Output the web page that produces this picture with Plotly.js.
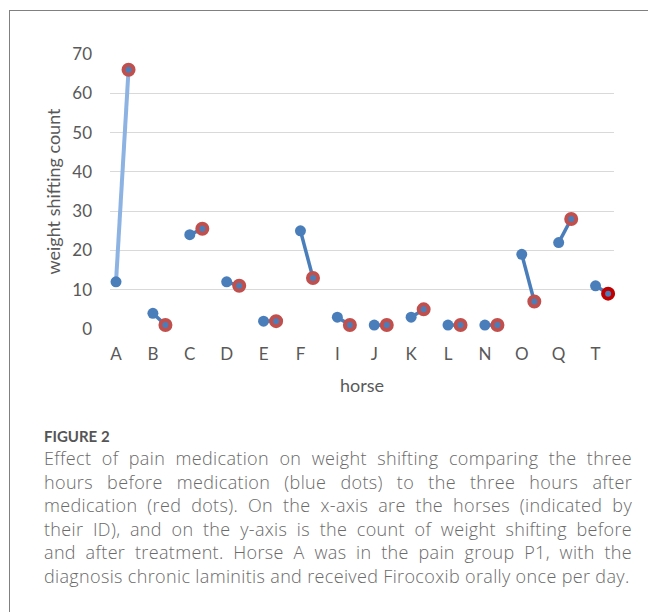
<!DOCTYPE html>
<html>
<head>
<meta charset="utf-8">
<script src="https://cdn.plot.ly/plotly-3.0.1.min.js"></script>
<style>
  html, body { margin: 0; padding: 0; background: #ffffff; }
  #wrap { position: relative; width: 648px; height: 612px; overflow: hidden; }
  #chart { position: absolute; left: 0; top: 0; width: 648px; height: 612px; }
  #frame { position: absolute; left: 9px; top: 10px; width: 700px; height: 700px;
           border-left: 1.5px solid #808080; border-top: 1.5px solid #808080; pointer-events: none; }
  #figlabel { position: absolute; left: 44px; top: 427px; font-family: Lato, sans-serif;
              font-weight: 700; font-size: 15px; color: #555555; }
  #caption { position: absolute; left: 44px; top: 447px; width: 588px; font-family: "Open Sans", sans-serif;
             font-weight: 300; font-size: 18px; letter-spacing: 0.35px; line-height: 23.5px; color: #6a6a6a; }
  #caption div { text-align: justify; text-align-last: justify; white-space: nowrap; }
  #caption div.last { text-align-last: left; }
</style>
</head>
<body>
<div id="wrap">
  <div id="chart"></div>
  <div id="frame"></div>
  <div id="figlabel">FIGURE 2</div>
  <div id="caption">
    <div>Effect of pain medication on weight shifting comparing the three</div>
    <div>hours before medication (blue dots) to the three hours after</div>
    <div>medication (red dots). On the x-axis are the horses (indicated by</div>
    <div>their ID), and on the y-axis is the count of weight shifting before</div>
    <div>and after treatment. Horse A was in the pain group P1, with the</div>
    <div class="last">diagnosis chronic laminitis and received Firocoxib orally once per day.</div>
  </div>
</div>
<script>
// ---- data ----
const horses = ['A', 'B', 'C', 'D', 'E', 'F', 'I', 'J', 'K', 'L', 'N', 'O', 'Q', 'T'];
const before = [12, 4, 24, 12, 2, 25, 3, 1, 3, 1, 1, 19, 22, 11];
const after  = [66, 1, 25.5, 11, 2, 13, 1, 1, 5, 1, 1, 7, 28, 9];
const yTicks = [0, 10, 20, 30, 40, 50, 60, 70];

// ---- layout / style ----
const OFFSET = 0.34;          // horizontal shift of the "after" dot within a horse slot
const BLUE = '#4A7EBB';
const LIGHT_BLUE = '#8DB3E2';
const RED = '#C0504D';
const DARK_RED = '#C00000';

const xBefore = horses.map((h, i) => i + 1);
const xAfter = horses.map((h, i) => i + 1 + OFFSET);

const traces = [];
horses.forEach((h, i) => {
  traces.push({
    type: 'scatter', mode: 'lines',
    x: [xBefore[i], xAfter[i]], y: [before[i], after[i]],
    line: { color: i === 0 ? LIGHT_BLUE : BLUE, width: i === 0 ? 4 : 3.5 },
    hoverinfo: 'skip', showlegend: false
  });
});
traces.push({
  type: 'scatter', mode: 'markers', name: 'before',
  x: xBefore, y: before, cliponaxis: false,
  marker: { size: 11, color: BLUE, line: { width: 0 } },
  showlegend: false
});
traces.push({
  type: 'scatter', mode: 'markers', name: 'after',
  x: xAfter, y: after, cliponaxis: false,
  marker: { size: 10, color: BLUE,
            line: { width: 4, color: horses.map(h => h === 'T' ? DARK_RED : RED) } },
  showlegend: false
});

const tickFont = { family: 'Lato, sans-serif', size: 17, color: '#595959' };
const titleFont = { family: 'Lato, sans-serif', size: 18, color: '#595959' };
const layout = {
  width: 648, height: 612,
  paper_bgcolor: '#ffffff', plot_bgcolor: '#ffffff',
  margin: { l: 110, r: 34, t: 54, b: 283 },
  showlegend: false,
  xaxis: {
    range: [0.837, 14.5],
    tickmode: 'array', tickvals: xBefore, ticktext: horses,
    showgrid: false, zeroline: false, showline: false, ticks: '',
    tickfont: tickFont, ticklabelstandoff: 13,
    title: { text: 'horse', font: titleFont, standoff: 16 },
    automargin: false
  },
  yaxis: {
    range: [0, 70],
    tickmode: 'array', tickvals: yTicks,
    showgrid: true, gridcolor: '#D9D9D9', gridwidth: 1,
    zeroline: false, showline: false, ticks: '',
    tickfont: tickFont, ticklabelstandoff: 17,
    title: { text: 'weight shifting count', font: titleFont, standoff: 6 },
    automargin: false
  }
};

Plotly.newPlot('chart', traces, layout, { staticPlot: true, displayModeBar: false });
</script>
</body>
</html>
